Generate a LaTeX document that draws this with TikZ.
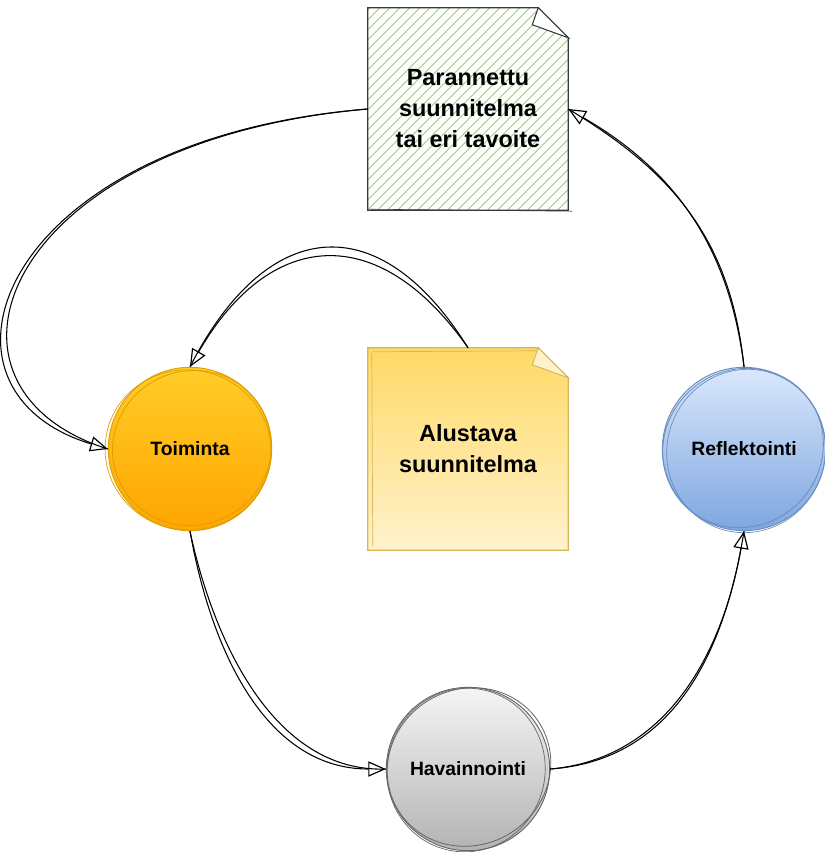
\documentclass[tikz,border=0pt]{standalone}
\usepackage{fontspec}
\setmainfont{Liberation Sans}
\usetikzlibrary{arrows.meta,positioning,calc,backgrounds,patterns.meta}

\definecolor{hatchgreen}{HTML}{A9D483}
\definecolor{noteline}{HTML}{36393D}
\definecolor{yelline}{HTML}{D6B656}
\definecolor{yeltop}{HTML}{FFD966}
\definecolor{yelbot}{HTML}{FFF2CC}
\definecolor{orline}{HTML}{DDA000}
\definecolor{ortop}{HTML}{FFCD28}
\definecolor{orbot}{HTML}{FFA500}
\definecolor{blline}{HTML}{6C8EBF}
\definecolor{bltop}{HTML}{DAE8FC}
\definecolor{blbot}{HTML}{7EA6E0}
\definecolor{grline}{HTML}{666666}
\definecolor{grtop}{HTML}{F5F5F5}
\definecolor{grbot}{HTML}{B3B3B3}

\tikzset{
  notetext/.style={minimum width=6cm,minimum height=6.06cm,align=center,
    font=\bfseries\fontsize{20}{26.5}\selectfont},
  phase/.style={circle,minimum size=4.9cm,line width=0.8pt,
    font=\bfseries\fontsize{16.5}{20}\selectfont},
  sketch/.style={line width=0.9pt,draw=black}
}

\begin{document}
\begin{tikzpicture}[x=0.03cm,y=0.03cm,>={Triangle[open,length=15pt,width=13pt,line width=1pt]},node distance=8.34cm]
\useasboundingbox (0,0) rectangle (825,-852);

\node[notetext]   (alu)   at (468,-449)   {Alustava\\suunnitelma};
\node[notetext]   (par)[above of=alu,node distance=10.2cm]   {Parannettu\\suunnitelma\\tai eri tavoite};
\node[phase,draw=orline,top color=ortop,bottom color=orbot]   (toi)[left of=alu]   {Toiminta};
\node[phase,draw=blline,top color=bltop,bottom color=blbot]   (ref)[right of=alu,node distance=8.28cm]   {Reflektointi};
\node[phase,draw=grline,top color=grtop,bottom color=grbot]   (hav)[below of=alu,node distance=9.6cm]   {Havainnointi};

% sticky notes with folded corner
\begin{scope}[on background layer]
\draw[yelline,line width=1pt,top color=yeltop,bottom color=yelbot]
  (alu.north west) -- ($(alu.north east)+(-30,0)$) -- ($(alu.north east)+(0,-30)$)
  -- (alu.south east) -- (alu.south west) -- cycle;
\draw[yelline,line width=0.8pt,fill=yelbot]
  ($(alu.north east)+(-30,0)$) -- ($(alu.north east)+(-36,-17)$) -- ($(alu.north east)+(0,-30)$) -- cycle;
\draw[yelline,line width=0.6pt] ($(alu.north west)+(5,-4)$) -- ($(alu.north east)+(-32,-3)$);
\draw[yelline,line width=0.6pt] ($(alu.north west)+(4,-5)$) -- ($(alu.south west)+(5,4)$);

\fill[white] (par.north west) -- ($(par.north east)+(-30,0)$) -- ($(par.north east)+(0,-30)$)
  -- (par.south east) -- (par.south west) -- cycle;
\fill[pattern={Lines[angle=45,distance=6.5pt,line width=1pt]},pattern color=hatchgreen]
  (par.north west) -- ($(par.north east)+(-30,0)$) -- ($(par.north east)+(0,-30)$)
  -- (par.south east) -- (par.south west) -- cycle;
\draw[noteline,line width=1.1pt]
  (par.north west) -- ($(par.north east)+(-30,0)$) -- ($(par.north east)+(0,-30)$)
  -- (par.south east) -- (par.south west) -- cycle;
\draw[noteline,line width=0.9pt,fill=white]
  ($(par.north east)+(-30,0)$) -- ($(par.north east)+(-36,-17)$) -- ($(par.north east)+(0,-30)$) -- cycle;
\draw[noteline,line width=0.5pt] ($(par.south west)+(2,1)$) -- ($(par.south east)+(4,-1)$);
\end{scope}

% hand drawn rings
\draw[orline,line width=0.7pt] ([shift={(2,1)}]toi.center) ellipse [x radius=80,y radius=77,rotate=25];
\draw[orline,line width=0.6pt] ([shift={(-2,-1)}]toi.center) ellipse [x radius=83,y radius=80,rotate=-10];
\draw[blline,line width=0.7pt] ([shift={(-1,1)}]ref.center) ellipse [x radius=82,y radius=78,rotate=40];
\draw[blline,line width=0.6pt] ([shift={(2,-2)}]ref.center) ellipse [x radius=79,y radius=82,rotate=-20];
\draw[grline,line width=0.7pt] ([shift={(1,2)}]hav.center) ellipse [x radius=83,y radius=78,rotate=30];
\draw[grline,line width=0.6pt] ([shift={(-2,-1)}]hav.center) ellipse [x radius=79,y radius=82,rotate=-15];

\path[->,line width=0.9pt] (alu.north)  edge[out=125,in=60,looseness=1.45]  (toi.north)
                 (alu.north)  edge[-,out=122,in=63,looseness=1.55]  (toi.north)
                 (toi.south)  edge[out=-80,in=180]  (hav.west)
                 (toi.south)  edge[-,out=-78,in=182,looseness=0.93]  (hav.west)
                 (hav.east)   edge[out=5,in=-100]  (ref.south)
                 (hav.east)   edge[-,out=4,in=-99,looseness=1.03]  (ref.south)
                 (ref.north)  edge[out=97,in=-30]  (par.east)
                 (ref.north)  edge[-,out=96,in=-31,looseness=1.03]  (par.east);

\draw[->,sketch] (par.west) .. controls +(-368,-30) and +(-198,60) .. (toi.west);
\draw[sketch] (par.west) .. controls +(-366,-32) and +(-196,62) .. (toi.west);

\end{tikzpicture}
\end{document}
